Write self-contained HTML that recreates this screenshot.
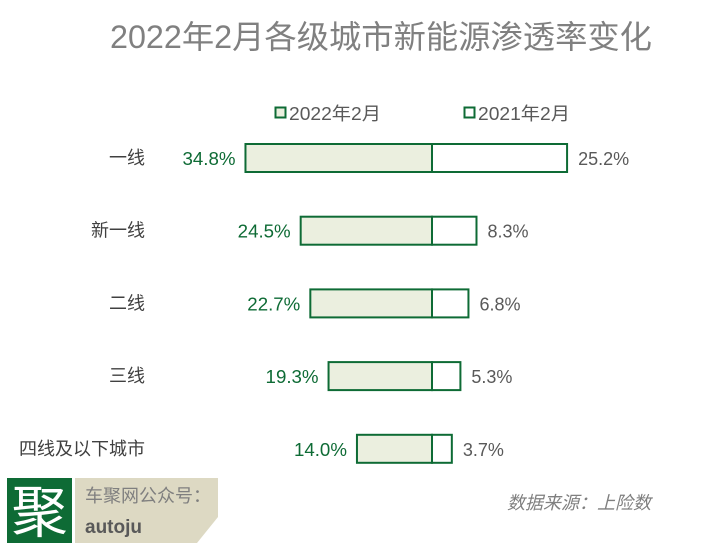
<!DOCTYPE html>
<html><head><meta charset="utf-8"><style>
body{margin:0;background:#fff;}
svg text{font-family:"Liberation Sans","Noto Sans CJK SC",sans-serif;}
</style></head><body>
<svg id="chart" width="727" height="549" xmlns="http://www.w3.org/2000/svg">
<text x="110" y="48" font-size="32" fill="#808080" textLength="542" lengthAdjust="spacingAndGlyphs">2022年2月各级城市新能源渗透率变化</text>
<g>
<rect x="275.5" y="107.5" width="10" height="10" fill="#ebefdf" stroke="#0e6b35" stroke-width="2"/>
<text x="289" y="120" font-size="18" fill="#595959" textLength="92" lengthAdjust="spacingAndGlyphs">2022年2月</text>
<rect x="464.5" y="107.5" width="10" height="10" fill="#fff" stroke="#0e6b35" stroke-width="2"/>
<text x="478" y="120" font-size="18" fill="#595959" textLength="92" lengthAdjust="spacingAndGlyphs">2021年2月</text>
</g>
<g id="bars"></g>
<g>
<rect x="7" y="478" width="65" height="65" fill="#0e6b35"/>
<text x="39.5" y="532" font-size="56" fill="#fff" text-anchor="middle">聚</text>
<polygon points="75,478 218,478 218,517 197,543 75,543" fill="#ddd9c3"/>
<text x="85" y="502" font-size="18" fill="#7f7f7f">车聚网公众号：</text>
<text x="85" y="533" font-size="19" font-weight="bold" fill="#595959">autoju</text>
</g>
<text x="651" y="509" font-size="18" fill="#7f7f7f" font-style="italic" text-anchor="end">数据来源：上险数</text>
</svg>
<script>
const categories=["一线","新一线","二线","三线","四线及以下城市"];
const values2022=[34.8,24.5,22.7,19.3,14.0];
const values2021=[25.2,8.3,6.8,5.3,3.7];
const cx=432, scale=5.36, rowY0=158, rowStep=72.7, barH=28;
const xL=v=>cx-v*scale, xR=v=>cx+v*scale, yRow=i=>rowY0+i*rowStep;
const g=document.getElementById('bars');
const NS="http://www.w3.org/2000/svg";
function mk(t,a){const e=document.createElementNS(NS,t);for(const k in a)e.setAttribute(k,a[k]);g.appendChild(e);return e;}
categories.forEach((c,i)=>{
  const y=yRow(i);
  let l=mk('text',{x:145,y:y+6,'font-size':18,fill:'#404040','text-anchor':'end'});l.textContent=c;
  
  
  let r1=mk('rect',{x:xL(values2022[i]),y:y-barH/2,width:values2022[i]*scale,height:barH,fill:'#ebefdf',stroke:'#0e6b35','stroke-width':2});
  
  
  let r2=mk('rect',{x:cx,y:y-barH/2,width:values2021[i]*scale,height:barH,fill:'#fff',stroke:'#0e6b35','stroke-width':2});
  
  
  let t1=mk('text',{x:xL(values2022[i])-10,y:y+7,'font-size':18,fill:'#0e6b35','text-anchor':'end',textLength:53,lengthAdjust:'spacingAndGlyphs'});t1.textContent=values2022[i].toFixed(1)+'%';
  
  
  let t2=mk('text',{x:xR(values2021[i])+11,y:y+7,'font-size':18,fill:'#595959'});t2.textContent=values2021[i].toFixed(1)+'%';
  
  
});
</script>
</body></html>
